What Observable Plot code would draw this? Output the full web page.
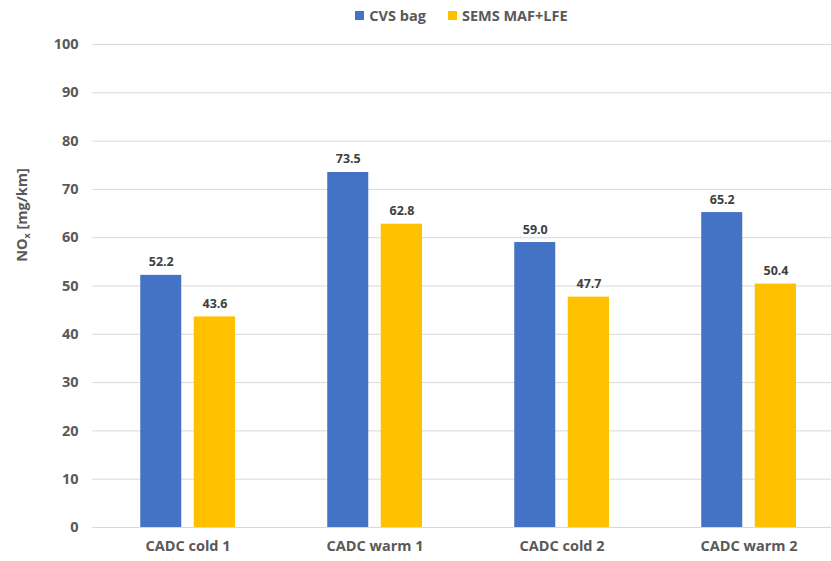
<!DOCTYPE html>
<html>
<head>
<meta charset="utf-8">
<script src="https://cdn.jsdelivr.net/npm/d3@7"></script>
<script src="https://cdn.jsdelivr.net/npm/@observablehq/plot@0.6"></script>
<style>
  html, body { margin: 0; padding: 0; background: #fff; }
  #wrap { width: 831px; height: 561px; position: relative; font-family: "Open Sans", Lato, sans-serif; }
  #legend { height: 30px; display: flex; align-items: center; justify-content: center; padding-left: 92px; box-sizing: border-box;
            font-weight: bold; font-size: 14.5px; color: #595959; gap: 22px; }
  .item { display: flex; align-items: center; gap: 5px; }
  .sw { width: 9px; height: 9px; display: inline-block; }
</style>
</head>
<body>
<div id="wrap">
  <div id="legend"></div>
  <div id="chart"></div>
</div>
<script>
const categories = ["CADC cold 1", "CADC warm 1", "CADC cold 2", "CADC warm 2"];
const seriesNames = ["CVS bag", "SEMS MAF+LFE"];
const cvsBag = [52.2, 73.5, 59.0, 65.2];
const semsMafLfe = [43.6, 62.8, 47.7, 50.4];
const yTicks = [0, 10, 20, 30, 40, 50, 60, 70, 80, 90, 100];
const colors = ["#4472C4", "#FFC000"];

const cvsData = categories.map((c, i) => ({category: c, value: cvsBag[i]}));
const semsData = categories.map((c, i) => ({category: c, value: semsMafLfe[i]}));

// legend
const legend = document.getElementById("legend");
seriesNames.forEach((s, i) => {
  const it = document.createElement("span");
  it.className = "item";
  it.innerHTML = `<span class="sw" style="background:${colors[i]}"></span><span>${s}</span>`;
  legend.appendChild(it);
});

const font = "'Open Sans', Lato, sans-serif";
const chart = Plot.plot({
  width: 831,
  height: 531,
  marginTop: 14,
  marginBottom: 34,
  marginLeft: 92,
  marginRight: 0,
  style: {fontFamily: font, fontSize: "14.5px", fontWeight: "bold", color: "#595959", background: "#fff"},
  x: {type: "band", domain: categories, range: [92.75, 842.75], padding: 0},
  y: {domain: [0, 100]},
  marks: [
    Plot.gridY(yTicks, {stroke: "#d9d9d9", strokeOpacity: 1}),
    Plot.axisY(yTicks, {tickSize: 0, tickPadding: 14, label: null, fill: "#595959", fontSize: 14.5}),
    Plot.axisX({tickSize: 0, tickPadding: 13, label: null, fill: "#595959", fontSize: 14.5}),
    Plot.barY(cvsData, {x: "category", y: "value", fill: colors[0], insetLeft: 46.25, insetRight: 99.75}),
    Plot.barY(semsData, {x: "category", y: "value", fill: colors[1], insetLeft: 99.75, insetRight: 46}),
    Plot.text(cvsData, {x: "category", y: "value", text: d => d.value.toFixed(1), dx: -26.75, dy: -13, fill: "#404040", fontSize: 12.5}),
    Plot.text(semsData, {x: "category", y: "value", text: d => d.value.toFixed(1), dx: 27, dy: -13, fill: "#404040", fontSize: 12.5})
  ]
});
document.getElementById("chart").appendChild(chart);

// rotated y-axis label with subscript
const svg = d3.select(chart);
const t = svg.append("text")
  .attr("transform", "translate(27,185) rotate(-90)")
  .attr("text-anchor", "middle")
  .attr("fill", "#595959")
  .attr("font-size", 14.5)
  .attr("font-weight", "bold")
  .attr("font-family", font);
t.append("tspan").text("NO");
t.append("tspan").attr("font-size", 9).attr("dy", 3).text("x");
t.append("tspan").attr("dy", -3).text(" [mg/km]");
</script>
</body>
</html>
